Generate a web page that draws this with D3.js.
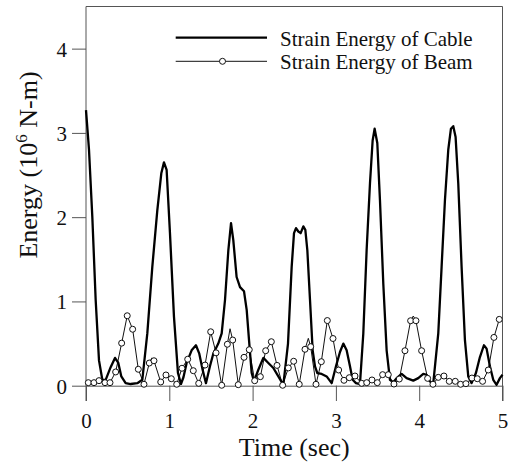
<!DOCTYPE html>
<html><head><meta charset="utf-8">
<script src="https://cdn.jsdelivr.net/npm/d3@7"></script>
<style>body{margin:0;background:#fff}svg{display:block}</style>
</head><body><svg id="c" width="508" height="463"></svg>
<script>
const xTicks = [0, 1, 2, 3, 4, 5];
const yTicks = [0, 1, 2, 3, 4];
const seriesNames = ["Strain Energy of Cable", "Strain Energy of Beam"];
const xTitle = "Time (sec)";

const cableTime = [0,0.036,0.076,0.116,0.156,0.196,0.236,0.296,0.348,0.388,0.424,0.476,0.536,0.616,0.676,0.736,0.796,0.856,0.904,0.936,0.968,1.008,1.056,1.104,1.14,1.17,1.208,1.268,1.32,1.36,1.40,1.44,1.488,1.528,1.588,1.629,1.669,1.709,1.741,1.768,1.808,1.849,1.897,1.929,1.957,1.989,2.017,2.069,2.129,2.189,2.249,2.309,2.369,2.425,2.469,2.497,2.521,2.549,2.577,2.609,2.633,2.657,2.689,2.721,2.749,2.777,2.829,2.889,2.949,3.001,3.049,3.089,3.129,3.169,3.201,3.241,3.289,3.329,3.369,3.409,3.441,3.465,3.497,3.529,3.569,3.609,3.649,3.689,3.729,3.789,3.849,3.929,3.989,4.049,4.089,4.129,4.169,4.229,4.269,4.309,4.349,4.381,4.409,4.437,4.469,4.509,4.549,4.589,4.629,4.681,4.729,4.777,4.809,4.849,4.889,4.929,4.969,5.0];
const cableValue = [3.27,2.80,2.0,1.02,0.30,0.07,0.07,0.22,0.33,0.27,0.11,0.03,0.02,0.03,0.07,0.62,1.41,2.08,2.52,2.65,2.56,1.81,0.82,0.15,0.02,0.1,0.27,0.42,0.48,0.38,0.19,0.03,0.23,0.38,0.50,0.62,1.02,1.61,1.93,1.73,1.29,1.17,1.12,0.90,0.54,0.15,0.05,0.19,0.33,0.27,0.21,0.11,0.01,0.5,1.41,1.81,1.87,1.83,1.81,1.89,1.85,1.61,1.02,0.42,0.23,0.15,0.14,0.11,0.03,0.23,0.40,0.50,0.42,0.23,0.07,0.03,0.02,0.62,1.61,2.40,2.91,3.05,2.88,2.20,1.21,0.42,0.07,0.04,0.09,0.14,0.09,0.06,0.09,0.14,0.13,0.05,0.03,0.62,1.41,2.20,2.80,3.05,3.08,2.95,2.40,1.41,0.54,0.11,0.03,0.15,0.34,0.48,0.44,0.23,0.07,0.01,0.09,0.13];

const beamTime = [0.028,0.096,0.156,0.228,0.288,0.356,0.428,0.495,0.56,0.628,0.696,0.76,0.816,0.897,0.96,1.024,1.089,1.152,1.221,1.288,1.353,1.429,1.497,1.561,1.629,1.697,1.761,1.828,1.897,1.96,2.025,2.093,2.157,2.225,2.293,2.361,2.429,2.493,2.56,2.629,2.697,2.761,2.825,2.897,2.965,3.033,3.097,3.161,3.229,3.31,3.37,3.433,3.497,3.561,3.629,3.697,3.761,3.829,3.897,3.961,4.029,4.101,4.165,4.229,4.297,4.361,4.433,4.497,4.561,4.633,4.697,4.761,4.829,4.897,4.961];
const beamValue = [0.036,0.036,0.06,0.036,0.036,0.163,0.505,0.83,0.67,0.195,0.017,0.269,0.296,0.044,0.127,0.083,0.017,0.207,0.314,0.178,0.028,0.245,0.64,0.39,0.005,0.492,0.542,0.012,0.337,0.427,0.059,0.107,0.415,0.522,0.241,0.005,0.211,0.29,0.017,0.432,0.463,0.017,0.285,0.773,0.56,0.186,0.064,0.095,0.115,0.028,0.036,0.068,0.036,0.131,0.131,0.02,0.079,0.415,0.771,0.771,0.415,0.087,0.017,0.099,0.115,0.052,0.052,0.017,0.024,0.091,0.083,0.052,0.186,0.573,0.787];
// line-only samples of the beam curve between markers
const beamPeakTime = [0.79, 1.729, 2.669, 3.929];
const beamPeakValue = [0.33, 0.676, 0.562, 0.827];

const svg = d3.select("#c");
const L = 86, R = 502.5, T = 6.5, Y0 = 385.7, FB = 401;
const x = d3.scaleLinear().domain([0, 5]).range([L, R]);
const y = d3.scaleLinear().domain([0, 4.5]).range([Y0, T]);
const axisCol = "#555";
const font = "'Liberation Serif', 'Times New Roman', serif";

// frame
svg.append("path").attr("d", `M${L},${FB}V${T}H${R}V${FB}`)
  .attr("fill", "none").attr("stroke", axisCol).attr("stroke-width", 1);

// x axis at zero
const gx = svg.append("g").attr("transform", `translate(0,${Y0})`)
  .call(d3.axisBottom(x).tickValues(xTicks).tickSize(FB - Y0).tickSizeOuter(0).tickPadding(12).tickFormat(d3.format("d")));
gx.select(".domain").attr("stroke", axisCol);
gx.selectAll(".tick line").attr("stroke", axisCol);
gx.selectAll(".tick text").attr("font-family", font).attr("font-size", 21).attr("fill", "#111");

const gy = svg.append("g").attr("transform", `translate(${L},0)`)
  .call(d3.axisLeft(y).tickValues(yTicks).tickSize(14).tickSizeOuter(0).tickPadding(5).tickFormat(d3.format("d")));
gy.select(".domain").remove();
gy.selectAll(".tick line").attr("stroke", axisCol);
gy.selectAll(".tick text").attr("font-family", font).attr("font-size", 21).attr("fill", "#111").attr("dy", "0.36em");

// titles
svg.append("text").attr("x", (L + R) / 2).attr("y", 456).attr("text-anchor", "middle")
  .attr("font-family", font).attr("font-size", 26).attr("fill", "#111").text(xTitle);
const yt = svg.append("text").attr("transform", `translate(37,165) rotate(-90)`).attr("text-anchor", "middle")
  .attr("font-family", font).attr("font-size", 26).attr("fill", "#111");
yt.append("tspan").text("Energy (10");
yt.append("tspan").attr("dy", -10).attr("font-size", 17).text("6");
yt.append("tspan").attr("dy", 10).text(" N-m)");

// data
const cable = cableTime.map((t, i) => [t, cableValue[i]]);
const beamMarks = beamTime.map((t, i) => [t, beamValue[i]]);
const beamLine = beamMarks.concat(beamPeakTime.map((t, i) => [t, beamPeakValue[i]])).sort((a, b) => a[0] - b[0]);
const line = d3.line().x(d => x(d[0])).y(d => y(d[1]));

svg.append("path").attr("d", line(beamLine)).attr("fill", "none").attr("stroke", "#111").attr("stroke-width", 1);
svg.append("path").attr("d", line(cable)).attr("fill", "none").attr("stroke", "#000").attr("stroke-width", 2.3).attr("stroke-linejoin", "round");
svg.append("g").selectAll("circle").data(beamMarks).join("circle")
  .attr("cx", d => x(d[0])).attr("cy", d => y(d[1])).attr("r", 3)
  .attr("fill", "#fff").attr("stroke", "#111").attr("stroke-width", 1);

// legend
const lg = svg.append("g");
lg.append("line").attr("x1", 175.7).attr("x2", 267).attr("y1", 37.7).attr("y2", 37.7).attr("stroke", "#000").attr("stroke-width", 2.3);
lg.append("line").attr("x1", 175.7).attr("x2", 267).attr("y1", 61.3).attr("y2", 61.3).attr("stroke", "#111").attr("stroke-width", 1);
lg.append("circle").attr("cx", 222.5).attr("cy", 61.3).attr("r", 3).attr("fill", "#fff").attr("stroke", "#111");
lg.selectAll("text").data(seriesNames).join("text")
  .attr("x", 280).attr("y", (d, i) => [45.5, 69][i])
  .attr("font-family", font).attr("font-size", 21).attr("fill", "#111").text(d => d);
</script></body></html>
